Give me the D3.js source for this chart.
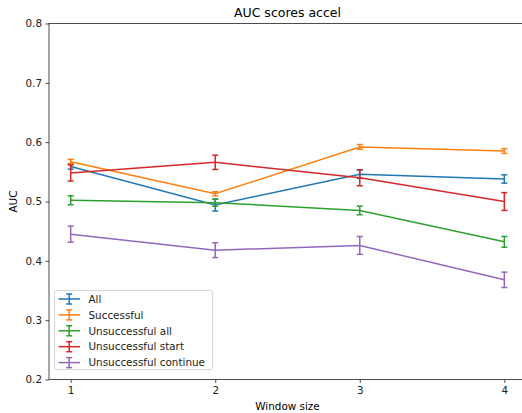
<!DOCTYPE html>
<html><head><meta charset="utf-8">
<script src="https://cdn.jsdelivr.net/npm/d3@7"></script>
<style>body{margin:0;background:#fff}svg{display:block;font-family:"DejaVu Sans",sans-serif}</style>
</head><body><svg id="c" width="522" height="413"></svg>
<script>
const windowSizes = [1, 2, 3, 4];
const seriesNames = ["All", "Successful", "Unsuccessful all", "Unsuccessful start", "Unsuccessful continue"];
const seriesColors = ["#1f77b4", "#ff7f0e", "#2ca02c", "#d62728", "#9467bd"];
const allMean = [0.559, 0.494, 0.546, 0.538];
const allErr = [0.0045, 0.010, 0.007, 0.007];
const successfulMean = [0.567, 0.513, 0.592, 0.585];
const successfulErr = [0.004, 0.0035, 0.004, 0.004];
const unsAllMean = [0.502, 0.498, 0.485, 0.432];
const unsAllErr = [0.0076, 0.006, 0.0073, 0.009];
const unsStartMean = [0.548, 0.566, 0.540, 0.500];
const unsStartErr = [0.0135, 0.012, 0.0135, 0.015];
const unsContMean = [0.445, 0.418, 0.426, 0.368];
const unsContErr = [0.0135, 0.0125, 0.015, 0.013];
const yTicks = [0.2, 0.3, 0.4, 0.5, 0.6, 0.7, 0.8];

const means = [allMean, successfulMean, unsAllMean, unsStartMean, unsContMean];
const errs = [allErr, successfulErr, unsAllErr, unsStartErr, unsContErr];

const FS = 10.4;
const svg = d3.select("#c");
const L = 49, R = 526, T = 23.5, B = 379.5;
const x = d3.scaleLinear().domain([0.85, 4.15]).range([L, R]);
const y = d3.scaleLinear().domain([0.2, 0.8]).range([B, T]);

// axes
const xa = svg.append("g").attr("transform", `translate(0,${B})`)
  .call(d3.axisBottom(x).tickValues(windowSizes).tickFormat(d3.format("d")).tickSize(3.5).tickPadding(3.5));
const ya = svg.append("g").attr("transform", `translate(${L},0)`)
  .call(d3.axisLeft(y).tickValues(yTicks).tickFormat(d3.format(".1f")).tickSize(3.5).tickPadding(3.5));
[xa, ya].forEach(a => {
  a.select(".domain").remove();
  a.selectAll("text").attr("font-size", FS).attr("fill", "#222").attr("font-family", "DejaVu Sans");
  a.selectAll("line").attr("stroke", "#222").attr("stroke-width", 0.8);
});
// spines
svg.append("rect").attr("x", L).attr("y", T).attr("width", R - L).attr("height", B - T)
  .attr("fill", "none").attr("stroke", "#222").attr("stroke-width", 0.8);

// series
const line = d3.line().x(d => x(d.x)).y(d => y(d.m));
means.forEach((m, i) => {
  const data = windowSizes.map((w, j) => ({x: w, m: m[j], e: errs[i][j]}));
  const g = svg.append("g").attr("stroke", seriesColors[i]).attr("stroke-width", 1.5).attr("fill", "none");
  g.append("path").attr("d", line(data));
  data.forEach(d => {
    const cx = x(d.x), y1 = y(d.m - d.e), y2 = y(d.m + d.e);
    g.append("line").attr("x1", cx).attr("x2", cx).attr("y1", y1).attr("y2", y2);
    g.append("line").attr("x1", cx - 3).attr("x2", cx + 3).attr("y1", y1).attr("y2", y1);
    g.append("line").attr("x1", cx - 3).attr("x2", cx + 3).attr("y1", y2).attr("y2", y2);
  });
});

// title & labels
svg.append("text").attr("x", (L + R) / 2).attr("y", 17).attr("text-anchor", "middle")
  .attr("font-size", 12.5).attr("fill", "#000").text("AUC scores accel");
svg.append("text").attr("x", (L + R) / 2).attr("y", 409.5).attr("text-anchor", "middle")
  .attr("font-size", FS).attr("fill", "#000").text("Window size");
svg.append("text").attr("transform", `translate(17,${(T + B) / 2}) rotate(-90)`).attr("text-anchor", "middle")
  .attr("font-size", FS).attr("fill", "#000").text("AUC");

// legend
const lg = svg.append("g");
lg.append("rect").attr("x", 54.5).attr("y", 290.5).attr("width", 158).attr("height", 79)
  .attr("rx", 2.5).attr("fill", "#fff").attr("fill-opacity", 0.8).attr("stroke", "#ccc").attr("stroke-width", 0.8);
seriesNames.forEach((n, i) => {
  const yy = 299 + i * 15.9;
  const g = lg.append("g").attr("stroke", seriesColors[i]).attr("stroke-width", 1.5);
  g.append("line").attr("x1", 58.5).attr("x2", 80).attr("y1", yy).attr("y2", yy);
  g.append("line").attr("x1", 69.2).attr("x2", 69.2).attr("y1", yy - 5).attr("y2", yy + 5);
  g.append("line").attr("x1", 66.2).attr("x2", 72.2).attr("y1", yy - 5).attr("y2", yy - 5);
  g.append("line").attr("x1", 66.2).attr("x2", 72.2).attr("y1", yy + 5).attr("y2", yy + 5);
  lg.append("text").attr("x", 88.5).attr("y", yy + 3.7).attr("font-size", FS).attr("fill", "#222").text(n);
});
</script></body></html>
